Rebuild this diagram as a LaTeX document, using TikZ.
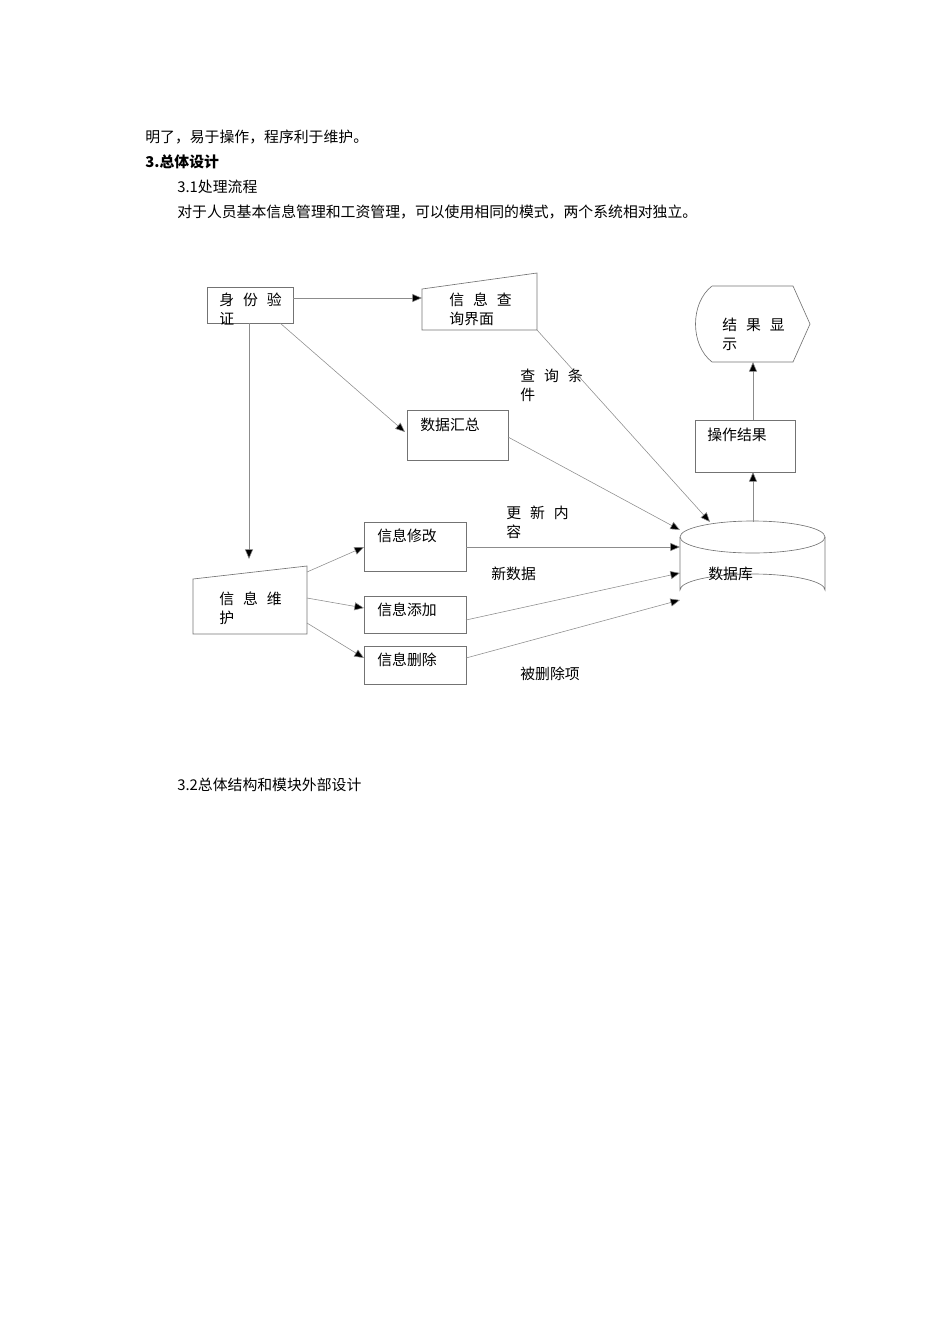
\documentclass[tikz,border=0pt]{standalone}
\usepackage{fontspec}
\setmainfont{Liberation Serif}
\newfontfamily\cjk{Noto Sans CJK SC}
\usetikzlibrary{arrows.meta}
\begin{document}
\begin{tikzpicture}[x=0.626pt,y=-0.626pt,
  box/.style={draw=black!55,line width=0.4pt},
  ln/.style={draw=black!45,line width=0.35pt},
  arr/.style={ln,-{Triangle[length=6pt,width=5pt,fill=black]}},
  txt/.style={anchor=west,inner sep=0pt,font=\cjk\fontsize{9.3}{11.5}\selectfont},
  lbl/.style={anchor=north west,inner sep=0pt,align=left,font=\cjk\fontsize{9.3}{11.5}\selectfont}]
\useasboundingbox (0,0) rectangle (950,1344);
% page text
\node[txt] (p1) at (145,137) {明了，易于操作，程序利于维护。};
\node[txt] (p2) at (145,162) {\textbf{3.}\textbf{总体设计}};
\node[txt] (p3) at (177,187) {3.1处理流程};
\node[txt] (p4) at (177,212) {对于人员基本信息管理和工资管理，可以使用相同的模式，两个系统相对独立。};
\node[txt] (p5) at (177,785) {3.2总体结构和模块外部设计};
% shapes
\draw[box] (207,287) rectangle (293,323);
\node[lbl] (sf) at (219,293) {身\hspace{0.6em}份\hspace{0.6em}验\\证};
\coordinate (sfR) at (293,298);
\draw[box] (422,289) -- (537,273) -- (537,330) -- (422,330) -- cycle;
\node[lbl] (cx) at (449,293) {信\hspace{0.6em}息\hspace{0.6em}查\\询界面};
\draw[box] (712,286) -- (793,286) -- (810,324) -- (793,362) -- (712,362)
  .. controls (690,345) and (690,303) .. (712,286);
\node[lbl] (jg) at (722,318) {结\hspace{0.6em}果\hspace{0.6em}显\\示};
\draw[box] (407,410) rectangle (508,460);
\node[lbl] (hz) at (420,418) {数据汇总};
\draw[box] (695,420) rectangle (795,472);
\node[lbl] (czjg) at (707,428) {操作结果};
% cylinder
\draw[box] (680,537) -- (680,590) arc[start angle=180,end angle=360,x radius=72.5,y radius=16] -- (825,537);
\draw[box] (752.5,537) ellipse[x radius=72.5,y radius=16];
\node[lbl] (db) at (708,567) {数据库};
\draw[box] (364,522) rectangle (466,571);
\node[lbl] (xg) at (377,529) {信息修改};
\draw[box] (364,596) rectangle (466,633);
\node[lbl] (tj) at (377,603) {信息添加};
\draw[box] (364,646) rectangle (466,684);
\node[lbl] (sc) at (377,653) {信息删除};
\draw[box] (193,579) -- (307,566) -- (307,634) -- (193,634) -- cycle;
\node[lbl] (wh) at (219,592) {信\hspace{0.6em}息\hspace{0.6em}维\\护};
% labels
\node[lbl] (l1) at (520,369) {查\hspace{0.6em}询\hspace{0.6em}条\\件};
\node[lbl] (l2) at (506,506) {更\hspace{0.6em}新\hspace{0.6em}内\\容};
\node[lbl] (l3) at (491,567) {新数据};
\node[lbl] (l4) at (520,667) {被删除项};
% arrows
\draw[arr] (293,298) -- (422,298);
\draw[arr] (280,323) -- (405,432);
\draw[arr] (249,323) -- (249,559);
\draw[arr] (537,330) -- (710,522);
\draw[arr] (508,437) -- (680,530);
\draw[arr] (753,522) -- (753,472);
\draw[arr] (753,420) -- (753,362);
\draw[arr] (466,547) -- (680,547);
\draw[arr] (466,620) -- (680,573);
\draw[arr] (466,658) -- (680,600);
\draw[arr] (307,572) -- (364,547);
\draw[arr] (307,598) -- (364,608);
\draw[arr] (307,623) -- (364,658);
\end{tikzpicture}
\end{document}
